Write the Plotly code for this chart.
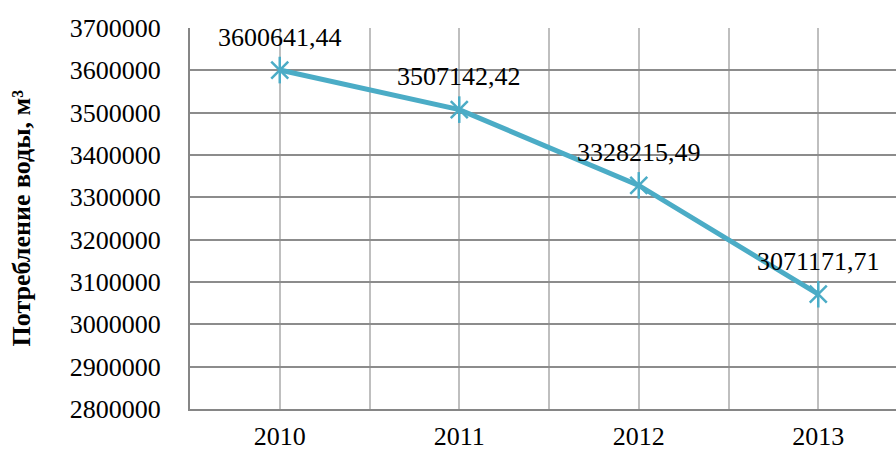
import plotly.graph_objects as go

# Water consumption by year
years = [2010, 2011, 2012, 2013]
consumption = [3600641.44, 3507142.42, 3328215.49, 3071171.71]
y_ticks = [2800000, 2900000, 3000000, 3100000, 3200000, 3300000, 3400000, 3500000, 3600000, 3700000]
y_title = "Потребление воды, м³"

line_color = "#4BACC6"
font_family = "Liberation Serif, Times New Roman, serif"

fig = go.Figure()

# Line with X-shaped markers
fig.add_trace(go.Scatter(
    x=years, y=consumption, mode="lines+markers",
    line=dict(color=line_color, width=5),
    marker=dict(symbol="x-thin-open", size=17, color=line_color,
                line=dict(color=line_color, width=2.5)),
    hoverinfo="skip", showlegend=False,
))
# Vertical stroke completing the star marker
fig.add_trace(go.Scatter(
    x=years, y=consumption, mode="markers",
    marker=dict(symbol="line-ns-open", size=19, color=line_color,
                line=dict(color=line_color, width=2.5)),
    hoverinfo="skip", showlegend=False,
))

# Value labels above each point
for x, v in zip(years, consumption):
    fig.add_annotation(
        x=x, y=v, text=f"{v:.2f}".replace(".", ","), showarrow=False,
        yshift=33, font=dict(family=font_family, size=26, color="#000000"),
    )

# Rotated axis title
fig.add_annotation(
    xref="paper", yref="paper", x=(21 - 190) / 706, y=0.5,
    text=f"<b>{y_title}</b>", textangle=-90, showarrow=False,
    font=dict(family=font_family, size=26, color="#000000"),
    xanchor="center", yanchor="middle",
)

fig.update_layout(
    width=896, height=450,
    margin=dict(l=190, r=0, t=28, b=41, autoexpand=False),
    paper_bgcolor="white", plot_bgcolor="white",
    font=dict(family=font_family, size=26, color="#000000"),
    xaxis=dict(
        type="linear", range=[2009.5, 2013.433], automargin=False,
        tickvals=years, ticktext=[str(y) for y in years],
        showgrid=True, gridcolor="#bfbfbf", gridwidth=1.5,
        minor=dict(showgrid=True, tick0=2009.5, dtick=1, gridcolor="#bfbfbf", gridwidth=1.5),
        showline=True, linecolor="#868686", linewidth=2,
        ticks="", ticklabelstandoff=3, zeroline=False,
        tickfont=dict(family=font_family, size=26),
    ),
    yaxis=dict(
        range=[2800000, 3700000], tickvals=y_ticks, automargin=False,
        ticktext=[str(t) for t in y_ticks],
        showgrid=True, gridcolor="#8c8c8c", gridwidth=1.5,
        showline=True, linecolor="#868686", linewidth=2,
        ticks="", ticklabelstandoff=22, zeroline=False,
        tickfont=dict(family=font_family, size=26),
    ),
)

fig.write_html("out.html")
